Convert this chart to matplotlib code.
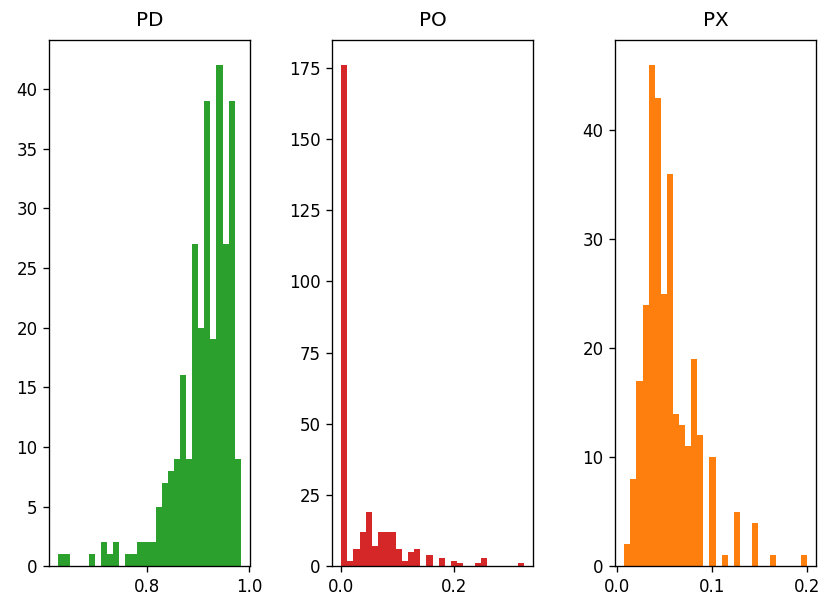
import numpy as np
import matplotlib
matplotlib.use("Agg")
import matplotlib.pyplot as plt
from matplotlib.ticker import MultipleLocator

# bin counts (30 bins each)
pd_counts = [1, 1, 0, 0, 0, 1, 0, 2, 1, 2, 0, 1, 1, 2, 2, 2, 5, 7, 8, 9,
             16, 9, 27, 20, 39, 19, 42, 27, 39, 9]
po_counts = [176, 2, 6, 12, 19, 7, 12, 12, 12, 6, 2, 5, 6, 0, 4, 0, 3, 0, 2, 1,
             0, 0, 1, 3, 0, 0, 0, 0, 0, 1]
px_counts = [2, 8, 17, 24, 46, 43, 25, 36, 14, 13, 11, 19, 12, 0, 10, 0, 1, 0, 5, 0,
             0, 4, 0, 0, 1, 0, 0, 0, 0, 1]

# data range of each histogram
pd_range = (0.6255, 0.9837)
po_range = (0.0, 0.3235)
px_range = (0.0077, 0.2)

titles = ['PD', 'PO', 'PX']
colors = ['#2ca02c', '#d62728', '#ff7f0e']
x_steps = [0.2, 0.2, 0.1]

fig, axes = plt.subplots(1, 3, figsize=(820 / 120, 596 / 120), dpi=120)
fig.subplots_adjust(left=0.06, right=0.995, top=0.933, bottom=0.05, wspace=0.41)

for ax, counts, rng, title, color, step in zip(axes, [pd_counts, po_counts, px_counts],
                                              [pd_range, po_range, px_range],
                                              titles, colors, x_steps):
    edges = np.linspace(rng[0], rng[1], len(counts) + 1)
    ax.hist(edges[:-1], bins=edges, weights=counts, color=color)
    ax.xaxis.set_major_locator(MultipleLocator(step))
    ax.set_title(title, pad=8.5)

plt.savefig('out.png')
